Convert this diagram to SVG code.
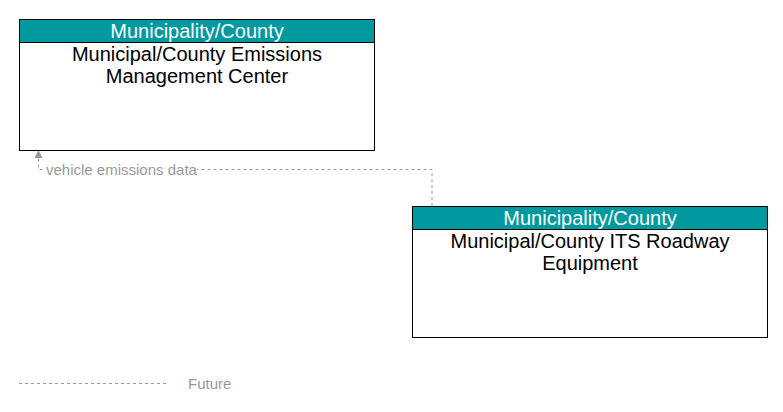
<svg xmlns="http://www.w3.org/2000/svg" width="783" height="412" viewBox="0 0 783 412">
<style>
.box{fill:#fff;stroke:#000;stroke-width:1}
.hdr{fill:#0099A0;stroke:#000;stroke-width:1}
.ht{font-family:"Liberation Sans",Arial,sans-serif;font-size:20px;fill:#fff;text-anchor:middle}
.bt{font-family:"Liberation Sans",Arial,sans-serif;font-size:20px;fill:#000;text-anchor:middle}
.flow{fill:none;stroke:#999;stroke-width:1;stroke-dasharray:3,3}
.lbl{font-family:"Liberation Sans",Arial,sans-serif;font-size:15px;fill:#999}
</style>
<rect width="783" height="412" fill="#fff"/>
<g id="connectors">
<path class="flow" d="M432,206 V169.5 H38.5 V157"/>
<path d="M34.5,158 L38.5,150 L42.5,158 Z" fill="#999"/>
<rect x="44" y="161" width="153" height="16" fill="#fff"/>
<text class="lbl" x="46" y="175">vehicle emissions data</text>
</g>
<g id="node-emissions">
<rect class="box" x="19.5" y="19.5" width="355" height="131"/>
<rect class="hdr" x="19.5" y="19.5" width="355" height="23"/>
<text class="ht" x="197" y="38">Municipality/County</text>
<text class="bt" x="197" y="61">Municipal/County Emissions</text>
<text class="bt" x="197" y="83">Management Center</text>
</g>
<g id="node-roadway">
<rect class="box" x="412.5" y="206.5" width="355" height="131"/>
<rect class="hdr" x="412.5" y="206.5" width="355" height="23"/>
<text class="ht" x="590" y="225">Municipality/County</text>
<text class="bt" x="590" y="248">Municipal/County ITS Roadway</text>
<text class="bt" x="590" y="270">Equipment</text>
</g>
<g id="legend">
<line class="flow" x1="19" y1="383.5" x2="166" y2="383.5"/>
<text class="lbl" x="188" y="389">Future</text>
</g>
</svg>
